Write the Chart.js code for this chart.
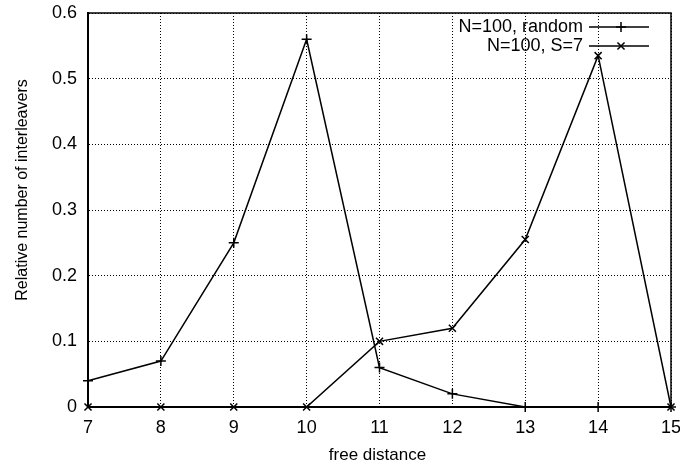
<!DOCTYPE html>
<html>
<head>
<meta charset="utf-8">
<script src="https://cdn.jsdelivr.net/npm/chart.js@4"></script>
<style>
  body { margin: 0; background: #fff; }
  #wrap { width: 680px; height: 466px; }
</style>
</head>
<body>
<div id="wrap"><canvas id="chart"></canvas></div>
<script>
// free distance / relatieve aantallen
const distances = [7, 8, 9, 10, 11, 12, 13, 14, 15];
const randomVals = [0.04, 0.07, 0.25, 0.56, 0.06, 0.02, 0, 0, 0];
const s7Vals = [0, 0, 0, 0, 0.10, 0.12, 0.255, 0.535, 0];
const seriesLabels = ['N=100, random', 'N=100, S=7'];
const yTicks = [0, 0.1, 0.2, 0.3, 0.4, 0.5, 0.6];
const xTitle = 'free distance';
const yTitle = 'Relative number of interleavers';

const font = 'Liberation Sans, Arial, sans-serif';

function toPoints(vals) {
  return distances.map((d, i) => ({ x: d, y: vals[i] }));
}

// legende binnen de grafiek, rechtsboven, zoals gnuplot
const insideLegend = {
  id: 'insideLegend',
  afterDraw(chart) {
    const ctx = chart.ctx;
    const area = chart.chartArea;
    ctx.save();
    ctx.font = '18px ' + font;
    ctx.fillStyle = '#000';
    ctx.strokeStyle = '#000';
    ctx.textAlign = 'right';
    ctx.textBaseline = 'middle';
    const styles = ['cross', 'crossRot'];
    seriesLabels.forEach((lbl, i) => {
      const y = area.top + 14 + i * 19;
      const xEnd = area.right - 88;
      ctx.fillText(lbl, xEnd, y);
      ctx.lineWidth = 1.5;
      ctx.beginPath();
      ctx.moveTo(xEnd + 6, y);
      ctx.lineTo(xEnd + 66, y);
      ctx.stroke();
      Chart.helpers.drawPoint(ctx, { pointStyle: styles[i], radius: 5, borderWidth: 1.5 }, xEnd + 38, y);
    });
    ctx.restore();
  }
};

// astitels zelf tekenen, iets verschoven zoals in het origineel
const axisTitles = {
  id: 'axisTitles',
  afterDraw(chart) {
    const ctx = chart.ctx;
    const a = chart.chartArea;
    ctx.save();
    ctx.fillStyle = '#000';
    ctx.textAlign = 'center';
    ctx.textBaseline = 'middle';
    ctx.font = '17px ' + font;
    ctx.fillText(xTitle, (a.left + a.right) / 2 - 2, 455);
    ctx.font = '16px ' + font;
    ctx.translate(23, 190);
    ctx.rotate(-Math.PI / 2);
    ctx.fillText(yTitle, 0, 0);
    ctx.restore();
  }
};

const frame = {
  id: 'frame',
  beforeDatasetsDraw(chart) {
    const ctx = chart.ctx;
    const a = chart.chartArea;
    ctx.save();
    ctx.strokeStyle = '#000';
    ctx.lineWidth = 1.5;
    ctx.strokeRect(a.left, a.top, a.right - a.left, a.bottom - a.top);
    ctx.restore();
  }
};

new Chart(document.getElementById('chart'), {
  type: 'line',
  data: {
    datasets: [
      {
        label: seriesLabels[0],
        data: toPoints(randomVals),
        borderColor: '#000',
        borderWidth: 1.5,
        pointStyle: 'cross',
        pointRadius: 5,
        pointBorderColor: '#000',
        pointBorderWidth: 1.5,
        tension: 0,
        clip: false
      },
      {
        label: seriesLabels[1],
        data: toPoints(s7Vals),
        borderColor: '#000',
        borderWidth: 1.5,
        pointStyle: 'crossRot',
        pointRadius: 5,
        pointBorderColor: '#000',
        pointBorderWidth: 1.5,
        tension: 0,
        clip: false
      }
    ]
  },
  options: {
    responsive: true,
    maintainAspectRatio: false,
    animation: false,
    layout: { padding: { left: 0, right: 9, top: 13, bottom: 0 } },
    plugins: {
      legend: { display: false },
      tooltip: { enabled: false }
    },
    scales: {
      x: {
        type: 'linear',
        min: 7,
        max: 15,
        afterFit(scale) {
          scale.height = 59;
          scale.paddingLeft = 0;
          scale.paddingRight = 0;
        },
        ticks: {
          stepSize: 1,
          color: '#000',
          font: { family: font, size: 18 },
          padding: 10
        },
        grid: {
          color: '#000',
          lineWidth: 1,
          tickLength: 0
        },
        border: { display: true, color: '#000', width: 2, dash: [1, 2] }
      },
      y: {
        min: 0,
        max: 0.6,
        afterFit(scale) {
          scale.width = 88;
          scale.paddingTop = 0;
          scale.paddingBottom = 0;
        },
        afterBuildTicks(scale) { scale.ticks = yTicks.map(v => ({ value: v })); },
        ticks: {
          color: '#000',
          font: { family: font, size: 18 },
          padding: 11,
          callback: v => String(v)
        },
        grid: {
          color: '#000',
          lineWidth: 1,
          tickLength: 0
        },
        border: { display: true, color: '#000', width: 2, dash: [1, 2] }
      }
    }
  },
  plugins: [frame, insideLegend, axisTitles]
});
</script>
</body>
</html>
